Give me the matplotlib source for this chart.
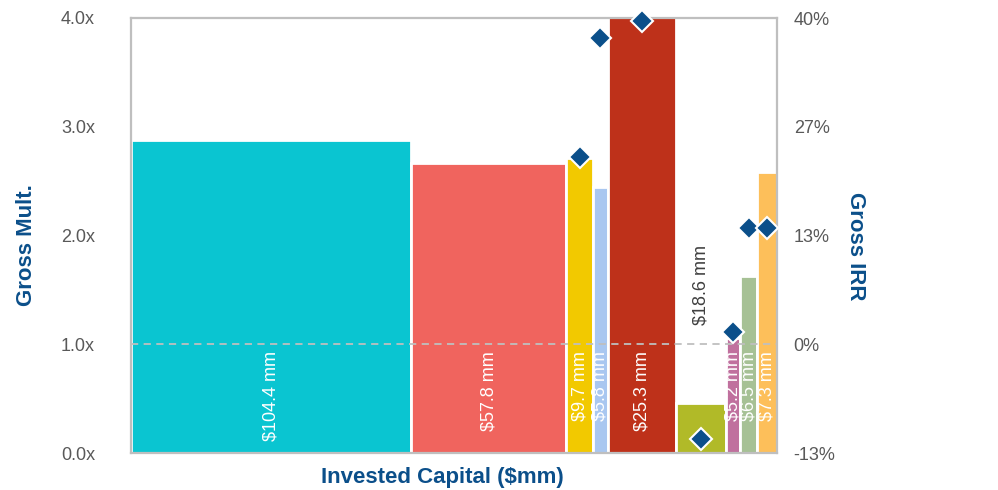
import matplotlib
matplotlib.use("Agg")
import matplotlib.pyplot as plt
import numpy as np
from matplotlib.ticker import FixedLocator

plt.rcParams['font.family'] = ['Liberation Sans', 'DejaVu Sans']

# Portfolio investments: invested capital ($mm), gross multiple, gross IRR (%)
invested = [104.4, 57.8, 9.7, 5.8, 25.3, 18.6, 5.2, 6.5, 7.3]
gross_mult = [2.88, 2.67, 2.71, 2.45, 4.05, 0.46, 1.06, 1.63, 2.58]
gross_irr = [np.nan, np.nan, 23.0, 37.6, 39.6, -11.6, 1.5, 14.2, 14.3]
bar_labels = ["$104.4 mm", "$57.8 mm", "$9.7 mm", "$5.8 mm", "$25.3 mm",
              "$18.6 mm", "$5.2 mm", "$6.5 mm", "$7.3 mm"]
bar_colors = ["#0AC5D1", "#F0645E", "#F2C900", "#A9C7F0", "#BE311A",
              "#B1BA28", "#C0709E", "#A6C195", "#FDBF5A"]
mult_ticks = [0.0, 1.0, 2.0, 3.0, 4.0]
irr_ticks = [-40 / 3, 0.0, 40 / 3, 80 / 3, 40.0]

navy = "#0B4F8A"
tick_grey = "#595959"
frame_grey = "#BFBFBF"

fig = plt.figure(figsize=(9.98, 4.9), dpi=100)
ax = fig.add_axes([131 / 998, 37 / 490, 646 / 998, 435 / 490])

widths = np.array(invested)
lefts = np.concatenate([[0], np.cumsum(widths)[:-1]])
centers = lefts + widths / 2

ax.bar(lefts, gross_mult, width=widths, align='edge', color=bar_colors,
       edgecolor='white', linewidth=2, zorder=2)
ax.set_xlim(0, widths.sum())
ax.set_ylim(0, 4)
ax.axhline(1.0, color="#BFBFBF", linestyle=(0, (4, 3)), linewidth=1.3, zorder=3)

for i, (c, lab) in enumerate(zip(centers, bar_labels)):
    if gross_mult[i] < 1.0:
        ax.text(c, 1.18, lab, rotation=90, rotation_mode='anchor',
                ha='left', va='center', fontsize=13, color="#404040", zorder=4)
    else:
        ax.text(c, 0.94, lab, rotation=90, rotation_mode='anchor',
                ha='right', va='center', fontsize=13, color='white', zorder=4)

ax.yaxis.set_major_locator(FixedLocator(mult_ticks))
ax.set_yticklabels([f"{t:.1f}x" for t in mult_ticks])
ax.set_xticks([])
ax.tick_params(axis='y', length=0, pad=26, labelsize=13, labelcolor=tick_grey)
for s in ax.spines.values():
    s.set_color(frame_grey)
    s.set_linewidth(1.6)

ax2 = ax.twinx()
ax2.set_ylim(irr_ticks[0], irr_ticks[-1])
ax2.plot(centers, gross_irr, linestyle='none', marker='D', markersize=11,
         markerfacecolor=navy, markeredgecolor='white', markeredgewidth=1.5,
         clip_on=False, zorder=5)
ax2.yaxis.set_major_locator(FixedLocator(irr_ticks))
ax2.set_yticklabels([f"{round(t):d}%" for t in irr_ticks])
ax2.tick_params(axis='y', length=0, pad=12, labelsize=13, labelcolor=tick_grey)
for s in ax2.spines.values():
    s.set_visible(False)

fig.text(27 / 998, 0.5, "Gross Mult.", rotation=90, ha='center', va='center',
         fontsize=16, fontweight='bold', color=navy)
fig.text(855 / 998, 0.498, "Gross IRR", rotation=270, ha='center', va='center',
         fontsize=16, fontweight='bold', color=navy)
fig.text(442 / 998, 1 - 477 / 490, "Invested Capital ($mm)", ha='center',
         va='center', fontsize=16, fontweight='bold', color=navy)

fig.savefig("out.png", dpi=100)
